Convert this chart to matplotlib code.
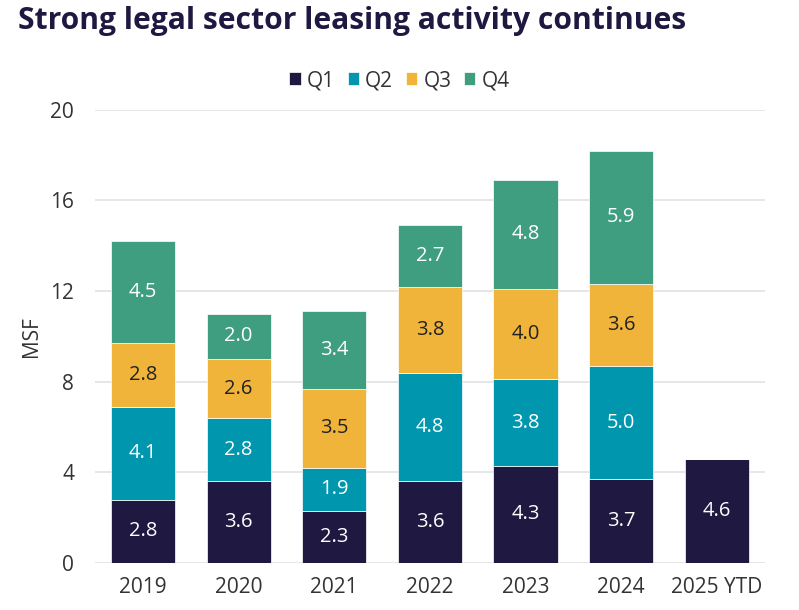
import matplotlib
matplotlib.use("Agg")
import matplotlib.pyplot as plt
import numpy as np

years = ["2019", "2020", "2021", "2022", "2023", "2024", "2025 YTD"]
q1 = [2.8, 3.6, 2.3, 3.6, 4.3, 3.7, 4.6]
q2 = [4.1, 2.8, 1.9, 4.8, 3.8, 5.0, 0]
q3 = [2.8, 2.6, 3.5, 3.8, 4.0, 3.6, 0]
q4 = [4.5, 2.0, 3.4, 2.7, 4.8, 5.9, 0]
series_names = ["Q1", "Q2", "Q3", "Q4"]
colors = ["#1f1840", "#0096ae", "#f0b43a", "#3f9e80"]
label_colors = ["white", "white", "#222222", "white"]

plt.rcParams['font.family'] = ['Open Sans', 'DejaVu Sans']

fig = plt.figure(figsize=(7.99, 6.10), dpi=100)
ax = fig.add_axes([0.119, 0.077, 0.838, 0.743])

x = np.arange(len(years))
bottom = np.zeros(len(years))
for vals, name, c, lc in zip([q1, q2, q3, q4], series_names, colors, label_colors):
    vals = np.array(vals)
    ax.bar(x, vals, 0.67, bottom=bottom, color=c, label=name,
           edgecolor="white", linewidth=0.5, zorder=3)
    for xi, v, b in zip(x, vals, bottom):
        if v > 0:
            ax.text(xi, b + v / 2, f"{v:.1f}", ha="center", va="center",
                    color=lc, fontsize=14.5, zorder=4)
    bottom += vals

ax.set_xlim(-0.5, 6.5)
ax.set_ylim(0, 20)
ax.set_yticks([0, 4, 8, 12, 16, 20])
ax.set_xticks(x)
ax.set_xticklabels(years)
ax.tick_params(axis="both", length=0, labelsize=15, colors="#333333")
ax.tick_params(axis="x", pad=10)
ax.tick_params(axis="y", pad=15)
for s in ax.spines.values():
    s.set_visible(False)
ax.yaxis.grid(True, color="#e2e2e2", linewidth=1.2, zorder=0)
ax.set_axisbelow(True)
ax.set_ylabel("MSF", fontsize=15, color="#333333", labelpad=6)

fig.legend(loc="center", bbox_to_anchor=(0.5, 0.868), ncol=4, frameon=False,
           fontsize=15, handlelength=0.55, handleheight=0.55, handletextpad=0.3,
           columnspacing=0.6, labelcolor="#333333")

fig.text(0.022, 0.965, "Strong legal sector leasing activity continues",
         fontsize=21.6, fontweight="bold", color="#1f1840", ha="left", va="center")

fig.savefig("out.png", dpi=100, facecolor="white")
